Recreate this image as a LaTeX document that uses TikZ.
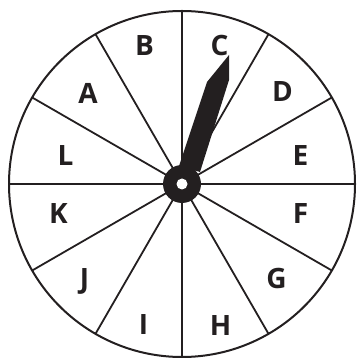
\documentclass[tikz,border=0pt]{standalone}
\usepackage{fontspec}
\setmainfont{Open Sans}
\usepackage{tikz}
\usetikzlibrary{positioning,calc}
\definecolor{ink}{HTML}{231F20}
\tikzset{
  rim/.style={draw=ink, line width=2pt},
  spoke/.style={draw=ink, line width=1.8pt},
  letter/.style={font=\fontsize{28}{28}\selectfont\bfseries, text=ink, inner sep=0pt, text height=20pt, text depth=0pt},
  needle/.style={fill=ink},
}

\begin{document}
\begin{tikzpicture}[x=1pt,y=1pt]
    \useasboundingbox (0,0) rectangle (356,358);
    \coordinate (hub) at (182,174);
    \draw[rim] (hub) circle (173);
    \foreach \a in {0,30,...,330}
      \draw[spoke] (hub) -- ++(\a:173);
    \foreach \x/\y/\name [count=\i] in {
        88/264/A, 144.5/312/B, 219.5/312/C, 282.5/266.5/D,
        300.5/202.5/E, 300.5/144.5/F, 276.5/79.5/G, 220.5/32/H,
        143.5/33/I, 84.5/79.5/J, 58.5/144.5/K, 65.5/202.5/L} {
      \node[letter] (l\i) at (\x,\y) {\name};
    }
    \fill[needle] (229,303) -- (229,278) -- (200,186) -- (179,192) -- (207,276) -- cycle;
    \fill[ink] (hub) circle (19);
    \fill[white] (hub) circle (5.5);
  \end{tikzpicture}
\end{document}
